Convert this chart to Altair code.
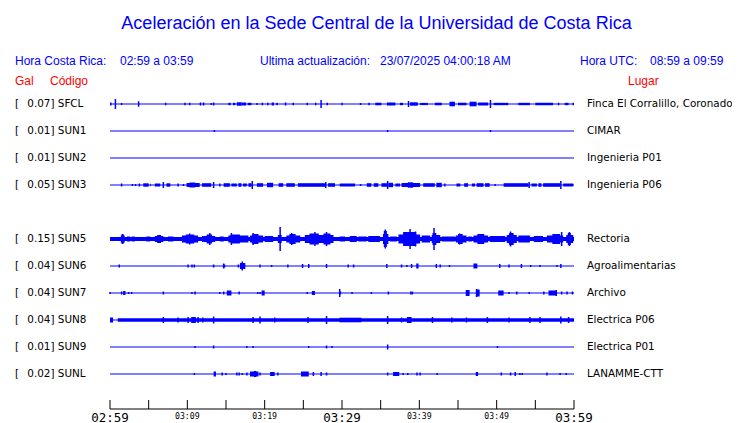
import altair as alt
import pandas as pd

# ---------------- data ----------------
STATIONS = ["SFCL", "SUN1", "SUN2", "SUN3", "SUN5", "SUN6", "SUN7", "SUN8", "SUN9", "SUNL"]
PEAK_GAL = ["0.07", "0.01", "0.01", "0.05", "0.15", "0.04", "0.04", "0.04", "0.01", "0.02"]
SITES = ["Finca El Corralillo, Coronado", "CIMAR", "Ingenieria P01", "Ingenieria P06",
         "Rectoria", "Agroalimentarias", "Archivo", "Electrica P06", "Electrica P01", "LANAMME-CTT"]
ROWS = [0, 1, 2, 3, 5, 6, 7, 8, 9, 10]

TICK_MINUTES = [0, 5, 10, 15, 20, 25, 30, 35, 40, 45, 50, 55, 60]
MAJOR_TICK_MINUTES = [0, 30, 60]
MAJOR_TICK_LABELS = ["02:59", "03:29", "03:59"]
MINOR_TICK_MINUTES = [10, 20, 40, 50]
MINOR_TICK_LABELS = ["03:09", "03:19", "03:39", "03:49"]

# spikes: (minute, half amplitude) ; bursts: (start minute, end minute, half amplitude)
SFCL_SPIKES = [(0.1, 1.5), (0.7, 5), (1.5, 1), (3.7, 2.7), (7.2, 1.3), (9.7, 1.3), (10.3, 1.3), (13.1, 1),
               (13.4, 1.5), (19.0, 1), (23.7, 1.3), (25.5, 1.3), (26.6, 1.3), (27.3, 4), (28.1, 1.3),
               (30.0, 1.3), (32.4, 1), (33.5, 1.3), (38.6, 3), (49.2, 4), (58.0, 1.3), (59.9, 1.3)]
SFCL_BURSTS = [(11.6, 11.8, 1.5), (12.0, 12.2, 1.5), (15.3, 15.6, 1.2), (15.9, 16.2, 1.2), (16.4, 17.0, 1.8),
               (17.0, 17.6, 1.5), (17.8, 18.3, 1.2), (19.6, 19.8, 1.3), (20.3, 20.5, 1.3), (20.9, 21.2, 1.5),
               (21.5, 21.7, 1.3), (22.6, 22.8, 1.5), (34.3, 35.1, 1.3), (35.8, 36.9, 1.5), (37.5, 37.9, 1.2),
               (38.8, 39.8, 1.7), (40.1, 41.1, 1.1), (42.0, 42.9, 1.3), (43.9, 44.6, 2.3), (45.0, 46.1, 1.3),
               (46.5, 47.4, 2.3), (47.6, 48.9, 1.5), (49.6, 51.5, 1.2), (52.8, 54.3, 1.2), (55.0, 57.3, 1.2),
               (58.8, 59.3, 1.2)]
SUN1_SPIKES = [(13.5, 1), (35.9, 1), (49.2, 1)]
SUN1_BURSTS = []
SUN2_SPIKES = []
SUN2_BURSTS = []
SUN3_SPIKES = [(1.5, 1.5), (2.9, 1), (3.3, 1), (6.9, 3), (8.8, 1.5), (9.5, 1), (13.4, 3), (14.2, 1.5),
               (18.4, 4), (27.9, 3), (32.4, 1), (35.9, 4), (43.3, 1.5), (49.8, 1), (54.2, 3), (58.3, 4)]
SUN3_BURSTS = [(3.7, 3.9, 1.5), (4.3, 5.0, 1.7), (5.2, 5.3, 1.3), (5.8, 6.5, 1.5), (7.3, 7.8, 1.7),
               (9.9, 11.6, 2), (10.3, 11.0, 2.5), (11.9, 13.1, 1.8), (14.7, 15.5, 1.8), (15.7, 16.4, 1.5),
               (16.6, 17.0, 1.8), (17.2, 17.7, 1.5), (17.9, 18.3, 1.8), (19.0, 19.8, 1.8), (20.3, 21.1, 2.2),
               (21.8, 22.4, 1.8), (22.8, 23.9, 1.8), (24.3, 27.8, 1.8), (28.2, 29.1, 1.8), (29.7, 31.7, 1.5),
               (33.2, 33.8, 1.8), (34.1, 34.7, 1.8), (35.1, 35.8, 1.8), (36.0, 36.6, 2.2), (36.9, 37.5, 1.5),
               (37.7, 40.1, 2), (38.5, 39.2, 2.7), (40.5, 42.0, 1.8), (42.2, 42.9, 2.2), (44.8, 45.3, 1.5),
               (45.8, 46.3, 1.8), (46.8, 47.2, 1.5), (47.4, 48.3, 1.8), (48.5, 49.1, 1.8), (50.9, 54.1, 1.8),
               (54.5, 55.2, 1.5), (55.4, 55.8, 1.8), (56.0, 58.2, 1.8), (58.6, 59.9, 1.5)]
SUN5_SPIKES = [(1.6, 5), (10.3, 5.5), (12.9, 6), (15.7, 6), (18.5, 6), (22.0, 12), (23.5, 6), (26.5, 7),
               (28.0, 7), (35.6, 9.5), (38.8, 10), (39.5, 7.5), (41.9, 11), (45.2, 5.5), (51.8, 7.5),
               (58.4, 7), (59.4, 7)]
SUN5_BURSTS = [(0.0, 60.0, 2), (1.4, 1.9, 3.5), (1.5, 1.8, 4.5), (2.2, 2.6, 2.5), (2.8, 3.2, 2.5),
               (4.7, 5.2, 2.5), (5.8, 6.9, 3), (6.1, 6.6, 4), (7.5, 8.2, 2.5), (9.3, 11.4, 3.5),
               (9.8, 10.9, 4.5), (11.9, 13.6, 3), (12.5, 13.2, 4.5), (14.2, 14.7, 2.5), (15.3, 17.9, 3.5),
               (15.6, 16.8, 4.5), (18.1, 19.8, 3.5), (18.4, 19.2, 5), (20.0, 21.1, 3), (21.7, 22.2, 4),
               (22.8, 24.6, 3.5), (23.2, 24.0, 5), (25.2, 28.9, 4), (25.8, 27.0, 5.5), (27.6, 28.5, 5.5),
               (29.7, 30.4, 2.5), (31.0, 31.9, 3), (32.1, 33.2, 2.5), (33.4, 34.9, 3), (35.3, 36.0, 5),
               (35.4, 35.8, 8), (36.2, 37.1, 2.5), (37.3, 40.1, 4.5), (37.9, 39.6, 7), (40.3, 41.4, 3.5),
               (41.6, 42.7, 4), (41.7, 42.2, 6), (42.9, 44.6, 2.5), (44.7, 46.1, 3.5), (45.0, 45.6, 5),
               (46.3, 46.8, 2.5), (47.0, 48.9, 3.5), (47.5, 48.4, 5), (49.1, 51.1, 3), (51.3, 52.6, 4),
               (51.6, 52.2, 6), (52.8, 54.3, 3.5), (54.8, 56.0, 3), (56.5, 58.6, 3.5), (57.2, 58.2, 5),
               (59.0, 59.9, 4), (59.2, 59.6, 6)]
SUN6_SPIKES = [(1.2, 1.5), (10.1, 1.5), (10.6, 1.5), (10.9, 1.5), (13.4, 1.5), (14.7, 2.5), (16.6, 1.5),
               (19.4, 1.5), (20.9, 1), (23.0, 1.5), (24.9, 2), (25.7, 2), (28.0, 2), (30.8, 1.5), (31.5, 1.5),
               (35.8, 2), (37.7, 1.5), (38.4, 1), (39.0, 2), (42.2, 2), (42.7, 1.5), (43.9, 1), (50.4, 2),
               (51.6, 1.5), (53.2, 2), (54.4, 1), (55.6, 1), (57.8, 1), (58.3, 2)]
SUN6_BURSTS = [(14.6, 14.9, 1.5), (16.8, 17.5, 3), (17.0, 17.2, 4.5), (39.6, 39.9, 2.5), (47.0, 47.5, 2.5)]
SUN7_SPIKES = [(0.0, 1), (1.5, 1.5), (2.4, 1), (2.8, 1), (6.9, 1.5), (10.6, 1), (11.0, 1.5), (14.2, 1),
               (14.7, 1.5), (16.7, 1.5), (19.1, 1), (19.4, 1), (25.5, 1), (29.7, 4), (29.8, 1.5), (31.3, 1),
               (33.8, 1), (36.0, 1.5), (38.9, 1.5), (39.1, 1.5), (47.4, 4), (51.6, 1), (52.6, 1.5),
               (54.2, 1), (56.1, 1.5), (57.7, 3), (58.4, 1.5), (59.1, 1.5), (59.8, 1.5)]
SUN7_BURSTS = [(1.7, 2.0, 2), (15.1, 15.7, 2.5), (19.6, 20.0, 2.5), (26.1, 26.5, 2), (46.0, 46.5, 3),
               (47.4, 47.8, 3.5), (50.2, 50.9, 2.5), (56.7, 57.8, 2.5)]
SUN8_SPIKES = [(6.9, 3), (8.8, 2.5), (10.1, 3), (11.4, 3), (12.0, 2.5), (13.4, 3.5), (18.5, 3), (19.4, 3.5),
               (21.3, 2.5), (25.6, 3), (28.0, 4), (35.9, 4), (37.7, 2.5), (41.7, 3), (44.2, 2.5), (46.1, 2.5),
               (48.8, 3), (51.6, 2.5), (54.3, 3), (55.6, 3), (58.3, 3.5), (59.3, 3)]
SUN8_BURSTS = [(0.0, 0.4, 2.5), (1.0, 60.0, 1.8), (10.5, 11.1, 3), (29.7, 32.5, 2.3), (38.4, 39.0, 3)]
SUN9_SPIKES = [(11.0, 1), (13.4, 1.5), (17.7, 1), (18.5, 1), (25.7, 1), (28.0, 1.5), (28.7, 1), (35.9, 2.5),
               (50.1, 1)]
SUN9_BURSTS = []
SUNL_SPIKES = [(10.9, 1), (14.5, 1.5), (15.0, 1), (16.4, 1.5), (16.7, 1.5), (17.1, 1), (17.7, 1.5),
               (19.4, 1.5), (21.7, 1.5), (26.3, 2), (27.3, 2), (28.0, 1.5), (35.9, 1.5), (37.9, 1),
               (38.5, 1), (39.7, 1.5), (40.1, 1.5), (42.3, 1), (50.6, 1.5), (51.8, 1.5), (52.4, 2),
               (53.0, 1), (53.3, 1), (56.5, 1.5), (58.2, 1), (59.0, 1)]
SUNL_BURSTS = [(13.4, 13.7, 2.5), (18.1, 19.2, 2.5), (18.6, 18.9, 3), (20.7, 21.3, 2), (24.7, 25.7, 2.5),
               (36.6, 37.4, 2), (47.3, 47.6, 2)]

SPIKE_LISTS = [SFCL_SPIKES, SUN1_SPIKES, SUN2_SPIKES, SUN3_SPIKES, SUN5_SPIKES,
               SUN6_SPIKES, SUN7_SPIKES, SUN8_SPIKES, SUN9_SPIKES, SUNL_SPIKES]
BURST_LISTS = [SFCL_BURSTS, SUN1_BURSTS, SUN2_BURSTS, SUN3_BURSTS, SUN5_BURSTS,
               SUN6_BURSTS, SUN7_BURSTS, SUN8_BURSTS, SUN9_BURSTS, SUNL_BURSTS]

# ---------------- layout constants ----------------
ROW = 27          # vertical offset between traces (y units)
BLUE = "#0000FF"
RED = "#FF0000"
W, H = 464, 320   # plot area (page x 110..574, y 90..410)
PX0, PY0 = 110, 90

def px(x):
    return x - PX0

def py(y):
    return y - PY0

rows_df = pd.DataFrame({
    "station": STATIONS,
    "gal": [g + "] " + s for g, s in zip(PEAK_GAL, STATIONS)],
    "site": SITES,
    "yc": [r * ROW for r in ROWS],
    "t0": [0] * len(STATIONS),
    "t1": [60] * len(STATIONS),
})

spk = []
for r, lst in zip(ROWS, SPIKE_LISTS):
    for t, a in lst:
        spk.append({"t": t, "lo": r * ROW - a, "hi": r * ROW + a})
spikes_df = pd.DataFrame(spk)

brs = []
for r, lst in zip(ROWS, BURST_LISTS):
    for t0, t1, a in lst:
        brs.append({"t0": t0, "t1": t1, "lo": r * ROW - a, "hi": r * ROW + a})
bursts_df = pd.DataFrame(brs)

xs = alt.Scale(domain=[0, 60], nice=False, zero=False)
ys = alt.Scale(domain=[-14, 306], reverse=True, nice=False, zero=False)

X = lambda f: alt.X(f, type="quantitative", scale=xs, axis=None)
Y = lambda f: alt.Y(f, type="quantitative", scale=ys, axis=None)

baselines = alt.Chart(rows_df).mark_rule(color=BLUE, strokeWidth=1.2).encode(
    x=X("t0"), x2="t1", y=Y("yc"))

bursts = alt.Chart(bursts_df).mark_rect(color=BLUE).encode(
    x=X("t0"), x2="t1", y=Y("lo"), y2="hi")

spikes = alt.Chart(spikes_df).mark_rule(color=BLUE, strokeWidth=1.5).encode(
    x=X("t"), y=Y("lo"), y2="hi")

LBL_SIZE = 10.4
left_bracket = alt.Chart(rows_df).mark_text(
    text="[", align="left", baseline="middle", font="DejaVu Sans", fontSize=LBL_SIZE, color="black"
).encode(x=alt.value(px(15)), y=Y("yc"))

left_lbl = alt.Chart(rows_df).mark_text(
    align="left", baseline="middle", font="DejaVu Sans", fontSize=LBL_SIZE, color="black"
).encode(x=alt.value(px(27.3)), y=Y("yc"), text="gal:N")

right_lbl = alt.Chart(rows_df).mark_text(
    align="left", baseline="middle", font="DejaVu Sans", fontSize=LBL_SIZE, color="black"
).encode(x=alt.value(px(587)), y=Y("yc"), text="site:N")

# time axis (ticks drawn upward from the base line)
ticks_df = pd.DataFrame({"t": TICK_MINUTES})
axis_line = alt.Chart(pd.DataFrame({"t0": [0], "t1": [60]})).mark_rule(color="black", strokeWidth=1).encode(
    x=X("t0"), x2="t1", y=alt.value(py(409)))
tick_marks = alt.Chart(ticks_df).mark_rule(color="black", strokeWidth=1).encode(
    x=X("t"), y=alt.value(py(400)), y2=alt.value(py(409)))
major_lbl = alt.Chart(pd.DataFrame({"t": MAJOR_TICK_MINUTES, "lab": MAJOR_TICK_LABELS})).mark_text(
    align="center", baseline="alphabetic", font="DejaVu Sans Mono", fontSize=12.5, color="black"
).encode(x=X("t"), y=alt.value(py(421.5)), text="lab:N")
minor_lbl = alt.Chart(pd.DataFrame({"t": MINOR_TICK_MINUTES, "lab": MINOR_TICK_LABELS})).mark_text(
    align="center", baseline="alphabetic", font="DejaVu Sans Mono", fontSize=8.2, color="black"
).encode(x=X("t"), y=alt.value(py(419)), text="lab:N")

one = pd.DataFrame({"k": [0]})

def header(text, x, y, size, color, align="left"):
    return alt.Chart(one).mark_text(
        text=text, align=align, baseline="alphabetic", font="Liberation Sans",
        fontSize=size, color=color
    ).encode(x=alt.value(px(x)), y=alt.value(py(y)))

headers = [
    header("Aceleración en la Sede Central de la Universidad de Costa Rica", 376.5, 29, 18, BLUE, "center"),
    header("Hora Costa Rica:", 15, 64.5, 12, BLUE),
    header("02:59 a 03:59", 120, 64.5, 12, BLUE),
    header("Ultima actualización:", 260, 64.5, 12, BLUE),
    header("23/07/2025 04:00:18 AM", 380, 64.5, 12, BLUE),
    header("Hora UTC:", 580, 64.5, 12, BLUE),
    header("08:59 a 09:59", 650, 64.5, 12, BLUE),
    header("Gal", 15, 84.5, 12, RED),
    header("Código", 50, 84.5, 12, RED),
    header("Lugar", 628, 84.5, 12, RED),
]

chart = alt.layer(
    baselines, bursts, spikes, left_bracket, left_lbl, right_lbl,
    axis_line, tick_marks, major_lbl, minor_lbl, *headers
).properties(
    width=W, height=H,
    autosize=alt.AutoSizeParams(type="none"),
    padding={"left": PX0 - 8, "top": PY0 - 8, "right": 724 - (PX0 - 8) - W, "bottom": 13},
    background="white",
).configure_view(stroke=None)

chart.save("out.html", embed_options={"renderer": "svg", "actions": False})
